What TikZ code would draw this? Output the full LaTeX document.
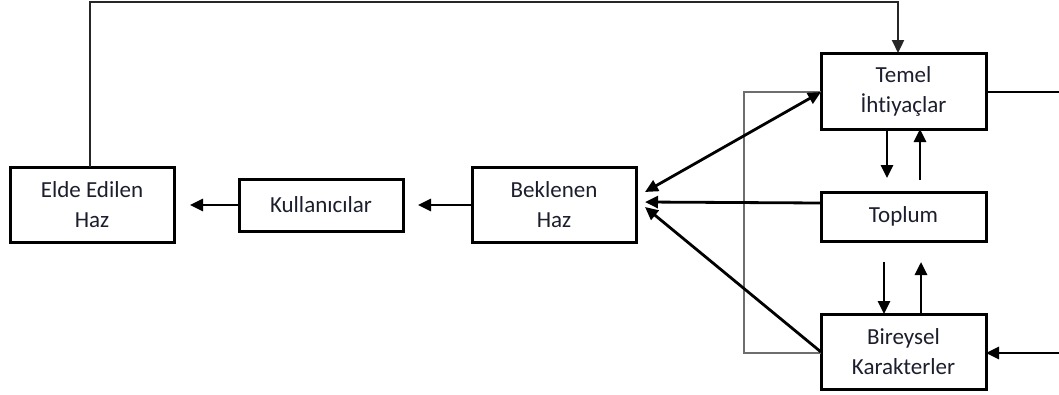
\documentclass[tikz,border=0pt]{standalone}
\usepackage{fontspec}
\setmainfont{Carlito}[Ligatures={NoCommon}]
\usetikzlibrary{arrows.meta}
\definecolor{txt}{HTML}{1C1E2E}
\definecolor{loopgray}{HTML}{6E6E6E}
\tikzset{
  box/.style={draw=black, line width=3pt, fill=white, inner sep=0pt,
    align=center, text=txt, font=\fontsize{23}{30}\selectfont},
  conn/.style={line width=2.8pt, draw=black},
  tip/.style={-{Triangle[length=13pt,width=12pt]}},
  bitip/.style={{Triangle[length=13pt,width=12pt]}-{Triangle[length=13pt,width=12pt]}},
}
\begin{document}
\begin{tikzpicture}[x=1pt,y=-1pt]
\useasboundingbox (0,0) rectangle (1059,394);

% boxes
\node[box, minimum width=164pt, minimum height=75pt] (elde) at (92,204.5) {Elde Edilen\\Haz};
\node[box, minimum width=164pt, minimum height=52pt] (kull) at (321,205) {Kullanıcılar};
\node[box, minimum width=164pt, minimum height=75pt] (bek) at (554,204.5) {Beklenen\\Haz};
\node[box, minimum width=165pt, minimum height=76pt] (temel) at (903.5,91) {Temel\\İhtiyaçlar};
\node[box, minimum width=165pt, minimum height=49pt] (toplum) at (903.5,216.5) {Toplum};
\node[box, minimum width=165pt, minimum height=75pt] (bir) at (903.5,351.5) {Bireysel\\Karakterler};

% free ends and bends
\coordinate (eldeUp) at (90,2);
\coordinate (temelUp) at (898,2);
\coordinate (rightTop) at (1059,92);
\coordinate (rightBot) at (1059,353);
\coordinate (grayTop) at (744,92);
\coordinate (grayBot) at (744,353);
\coordinate (kullTip) at (190,205);
\coordinate (bekTip) at (418,205);
\coordinate (bekA) at (645,192);
\coordinate (bekB) at (645,202);
\coordinate (bekC) at (645,207);

% feedback loop over the top
\draw[conn, line width=2.3pt, draw=black!85, tip] (90,167) -- (eldeUp) -- (temelUp) -- (898,53);

% side loop from the individual characters back to basic needs
\draw[loopgray, line width=2.4pt] (821,353) -- (grayBot) -- (grayTop) -- (821,92);

% incoming and outgoing lines on the right edge
\draw[conn, line width=2.3pt] (986,92) -- (rightTop);
\draw[conn, tip] (rightBot) -- (986,353);

% chain to the left
\draw[conn, tip] (472,205) -- (bekTip);
\draw[conn, tip] (239,205) -- (kullTip);

% links into the expected pleasure box
\draw[conn, bitip] (bekA) -- (821,92);
\draw[conn, tip] (821,203) -- (bekB);
\draw[conn, tip] (821,352) -- (bekC);

% vertical links between the right column
\draw[conn, tip] (887,129) -- (887,178);
\draw[conn, tip] (920,180) -- (920,129);
\draw[conn, tip] (884,262) -- (884,314);
\draw[conn, tip] (921,314) -- (921,262);
\end{tikzpicture}
\end{document}
